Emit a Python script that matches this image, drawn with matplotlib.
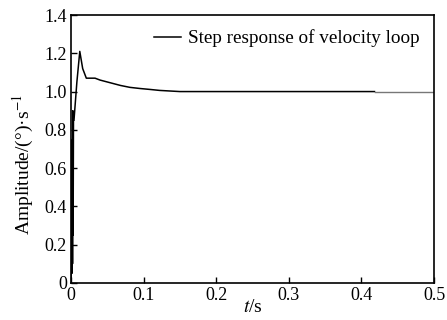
import matplotlib
matplotlib.use("Agg")
import matplotlib.pyplot as plt
from matplotlib.ticker import FuncFormatter

plt.rcParams['font.family'] = ['Liberation Serif', 'DejaVu Serif']
plt.rcParams['mathtext.fontset'] = 'stix'

# step response
t = [0.0, 0.0008, 0.0012, 0.0016, 0.002, 0.0024, 0.0028, 0.0033, 0.004,
     0.008, 0.012, 0.016, 0.021, 0.033, 0.04, 0.054, 0.068, 0.081,
     0.095, 0.109, 0.122, 0.136, 0.15, 0.2, 0.3, 0.418]
amp = [0.0, 0.45, 0.05, 0.75, 0.1, 0.9, 0.25, 0.85, 0.85,
       1.05, 1.21, 1.12, 1.07, 1.07, 1.06, 1.046, 1.032, 1.022,
       1.016, 1.011, 1.006, 1.003, 1.0, 1.0, 1.0, 1.0]
t_tail = [0.418, 0.5]
amp_tail = [1.0, 1.0]

xticks = [0, 0.1, 0.2, 0.3, 0.4, 0.5]
yticks = [0, 0.2, 0.4, 0.6, 0.8, 1.0, 1.2, 1.4]

fig = plt.figure(figsize=(4.47, 3.2), dpi=100)
ax = fig.add_axes([0.159, 0.116, 0.812, 0.837])

ax.plot(t, amp, color='black', lw=1.1, label='Step response of velocity loop')
ax.plot(t_tail, amp_tail, color='#777777', lw=1.0)

ax.set_xlim(0, 0.5)
ax.set_ylim(0, 1.4)
ax.set_xticks(xticks)
ax.set_yticks(yticks)
fmt = FuncFormatter(lambda v, p: '0' if v == 0 else f'{v:.1f}')
ax.xaxis.set_major_formatter(fmt)
ax.yaxis.set_major_formatter(fmt)
ax.tick_params(direction='in', length=4, width=1, labelsize=13, pad=3)
for s in ax.spines.values():
    s.set_linewidth(1.2)

ax.set_xlabel('$t$/s', fontsize=14)
ax.xaxis.set_label_coords(0.5, -0.062)
ax.set_ylabel('Amplitude/(°)·s$^{-1}$', fontsize=14)
ax.yaxis.set_label_coords(-0.098, 0.44)

ax.legend(loc='upper right', frameon=False, fontsize=13.8, handlelength=1.45,
          handletextpad=0.35, borderaxespad=0.35)

fig.savefig('out.png', dpi=100)
